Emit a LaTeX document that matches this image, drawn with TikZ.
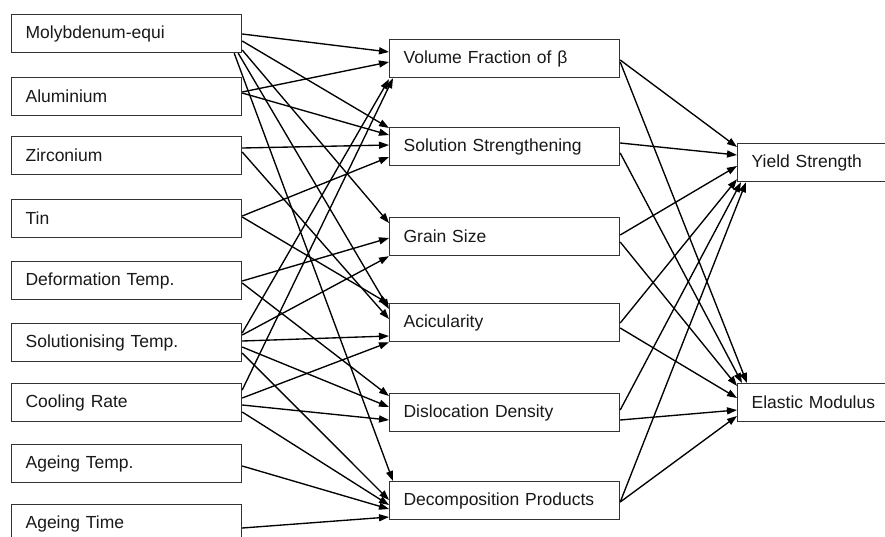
\documentclass[tikz,border=0pt]{standalone}
\usepackage{fontspec}
\setmainfont{Liberation Sans}
\usetikzlibrary{arrows.meta,calc}
\begin{document}
\begin{tikzpicture}[x=1pt,y=-1pt,
  box/.style={draw=black!80, line width=1.2pt, fill=white, anchor=north west,
    minimum height=38pt, inner ysep=0pt, inner xsep=14pt, text width=202pt,
    align=left, font=\fontsize{17.5}{20}\selectfont, text=black!90},
  outbox/.style={box, text width=220pt},
  conn/.style={line width=1.35pt, -{Triangle[length=10pt,width=7pt]}}]
\useasboundingbox (0,0) rectangle (885,536);
\clip (0,0) rectangle (885,536);
\fill[white] (0,0) rectangle (885,536);

% input variables
\node[box] (mo)      at (11,14)  {Molybdenum-equi};
\node[box] (al)      at (11,77)  {Aluminium};
\node[box] (zr)      at (11,136) {Zirconium};
\node[box] (tin)     at (11,199) {Tin};
\node[box] (def)     at (11,261) {Deformation Temp.};
\node[box] (sol)     at (11,323) {Solutionising Temp.};
\node[box] (cool)    at (11,383) {Cooling Rate};
\node[box] (aget)    at (11,444) {Ageing Temp.};
\node[box] (agetime) at (11,504) {Ageing Time};

% microstructural features
\node[box] (vf)   at (389,39)  {Volume Fraction of β};
\node[box] (ss)   at (389,127) {Solution Strengthening};
\node[box] (gs)   at (389,217) {Grain Size};
\node[box] (acic) at (389,303) {Acicularity};
\node[box] (disl) at (389,393) {Dislocation Density};
\node[box] (dec)  at (389,481) {Decomposition Products};

% properties
\node[outbox] (ys) at (737,143) {Yield Strength};
\node[outbox] (em) at (737,383) {Elastic Modulus};

% inputs -> features
\draw[conn] ($(mo.north east)+(0,20)$) -- ($(vf.north west)+(0,13)$);
\draw[conn] ($(mo.north east)+(0,27)$) -- ($(ss.north west)+(0,1)$);
\draw[conn] ($(mo.north east)+(0,36)$) -- ($(gs.north west)+(0,6)$);
\draw[conn] ($(mo.south east)+(-4,0)$) -- ($(acic.north west)+(0,6)$);
\draw[conn] ($(mo.south east)+(-8,0)$) -- ($(dec.north west)+(4,0)$);
\draw[conn] ($(al.north east)+(0,15)$) -- ($(vf.north west)+(0,23)$);
\draw[conn] ($(al.north east)+(0,16)$) -- ($(ss.north west)+(0,8)$);
\draw[conn] ($(zr.north east)+(0,12)$) -- ($(ss.north west)+(0,18)$);
\draw[conn] ($(zr.north east)+(0,16)$) -- ($(acic.north west)+(0,16)$);
\draw[conn] ($(tin.north east)+(0,17)$) -- ($(ss.north west)+(0,30)$);
\draw[conn] ($(tin.north east)+(0,18)$) -- ($(acic.north west)+(0,1)$);
\draw[conn] ($(def.north east)+(0,20)$) -- ($(gs.north west)+(0,21)$);
\draw[conn] ($(def.north east)+(0,22)$) -- ($(disl.north west)+(0,3)$);
\draw[conn] ($(sol.north east)+(0,10)$) -- ($(vf.south west)+(0,1)$);
\draw[conn] ($(sol.north east)+(0,12)$) -- (gs.south west);
\draw[conn] ($(sol.north east)+(0,18)$) -- ($(acic.north west)+(0,33)$);
\draw[conn] ($(sol.north east)+(0,24)$) -- ($(disl.north west)+(0,14)$);
\draw[conn] ($(sol.north east)+(0,30)$) -- ($(dec.north west)+(0,19)$);
\draw[conn] ($(cool.north east)+(0,7)$) -- ($(vf.south west)+(4,0)$);
\draw[conn] ($(cool.north east)+(0,15)$) -- (acic.south west);
\draw[conn] ($(cool.north east)+(0,22)$) -- ($(disl.north west)+(0,27)$);
\draw[conn] ($(cool.north east)+(0,29)$) -- ($(dec.north west)+(0,24)$);
\draw[conn] ($(aget.north east)+(0,22)$) -- ($(dec.north west)+(0,28)$);
\draw[conn] ($(agetime.north east)+(0,24)$) -- ($(dec.north west)+(0,36)$);

% features -> properties
\draw[conn] ($(vf.north east)+(0,21)$)   -- ($(ys.north west)+(0,4)$);
\draw[conn] ($(vf.north east)+(0,23)$)   -- ($(em.north west)+(10,0)$);
\draw[conn] ($(ss.north east)+(0,16)$)   -- ($(ys.north west)+(0,12)$);
\draw[conn] ($(ss.north east)+(0,26)$)   -- ($(em.north west)+(5,0)$);
\draw[conn] ($(gs.north east)+(0,18)$)   -- ($(ys.north west)+(0,23)$);
\draw[conn] ($(gs.north east)+(0,25)$)   -- ($(em.north west)+(0,3)$);
\draw[conn] ($(acic.north east)+(0,20)$) -- ($(ys.south west)+(0,-3)$);
\draw[conn] ($(acic.north east)+(0,25)$) -- ($(em.north west)+(0,15)$);
\draw[conn] ($(disl.north east)+(0,17)$) -- ($(ys.south west)+(4,0)$);
\draw[conn] ($(disl.north east)+(0,27)$) -- ($(em.north west)+(0,27)$);
\draw[conn] ($(dec.north east)+(0,21)$)  -- ($(ys.south west)+(9,0)$);
\draw[conn] ($(dec.north east)+(0,21)$)  -- ($(em.north west)+(0,33)$);
\end{tikzpicture}
\end{document}
